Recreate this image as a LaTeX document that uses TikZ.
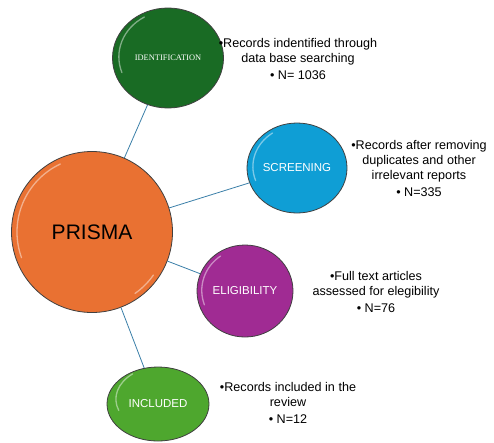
\documentclass[tikz,border=0pt]{standalone}
\usepackage{fontspec}
\setmainfont{Liberation Sans}
\newfontfamily\idfont{Liberation Serif}
\usetikzlibrary{shapes.geometric}

\definecolor{prismaorange}{HTML}{E97132}
\definecolor{idgreen}{HTML}{196B24}
\definecolor{scrblue}{HTML}{0F9ED5}
\definecolor{eligpurple}{HTML}{A02B93}
\definecolor{inclgreen}{HTML}{4EA72E}
\definecolor{linkblue}{HTML}{3A7FA8}

\tikzset{
    stage/.style={ellipse, draw=black!75, line width=0.8pt, inner sep=0pt,
        text=white, font=\fontsize{11.5}{13}\selectfont},
    note/.style={align=center, font=\fontsize{12.6}{15}\selectfont},
    link/.style={draw=linkblue, line width=0.8pt},
    gloss/.style={white, opacity=0.45, line width=1.3pt, line cap=round}
}

\begin{document}
\begin{tikzpicture}[x=1pt, y=-1pt]
    \useasboundingbox (0,0) rectangle (494,442);

    % stages
    \node [stage, fill=prismaorange, minimum width=161, minimum height=161,
        text=black, font=\fontsize{21}{25}\selectfont] (pr) at (92,232) {PRISMA};
    \node [stage, fill=idgreen, minimum width=111, minimum height=100,
        font=\idfont\fontsize{8.4}{9}\selectfont] (id) at (168,58) {IDENTIFICATION};
    \node [stage, fill=scrblue, minimum width=100, minimum height=90] (scr) at (297,168) {SCREENING};
    \node [stage, fill=eligpurple, minimum width=96, minimum height=92] (elig) at (245,291) {ELIGIBILITY};
    \node [stage, fill=inclgreen, minimum width=102, minimum height=74] (incl) at (158,404) {INCLUDED};

    % shine on the left rims
    \draw[gloss] (pr.center) ++(-115:75) arc[start angle=-115, end angle=-200, radius=75];
    \draw[gloss] (pr.center) ++(35:75) arc[start angle=35, end angle=55, radius=75];
    \draw[gloss] (id.center) ++(-120:{sqrt((51*cos(120))^2+(46*sin(120))^2)})
        arc[start angle=-120, end angle=-200, x radius=51, y radius=46];
    \draw[gloss] (scr.center) ++(-125:{sqrt((46*cos(125))^2+(41*sin(125))^2)})
        arc[start angle=-125, end angle=-200, x radius=46, y radius=41];
    \draw[gloss] (elig.center) ++(-125:{sqrt((44*cos(125))^2+(42*sin(125))^2)})
        arc[start angle=-125, end angle=-200, x radius=44, y radius=42];
    \draw[gloss] (incl.center) ++(-130:{sqrt((47*cos(130))^2+(33*sin(130))^2)})
        arc[start angle=-130, end angle=-200, x radius=47, y radius=33];

    % notes
    \node [note] (idn) at (298,59) {\textbullet Records indentified through\\data base searching\\[2pt]\textbullet\ N= 1036};
    \node [note] (scrn) at (419,168) {\textbullet Records after removing\\duplicates and other\\irrelevant reports\\[2pt]\textbullet\ N=335};
    \node [note] (elign) at (376,292) {\textbullet Full text articles\\assessed for elegibility\\[2pt]\textbullet\ N=76};
    \node [note] (incln) at (288,403) {\textbullet Records included in the\\review\\[2pt]\textbullet\ N=12};

    % links
    \draw[link] (pr) -- (id);
    \draw[link] (pr) -- (scr);
    \draw[link] (pr) -- (elig);
    \draw[link] (pr) -- (incl);
\end{tikzpicture}
\end{document}
